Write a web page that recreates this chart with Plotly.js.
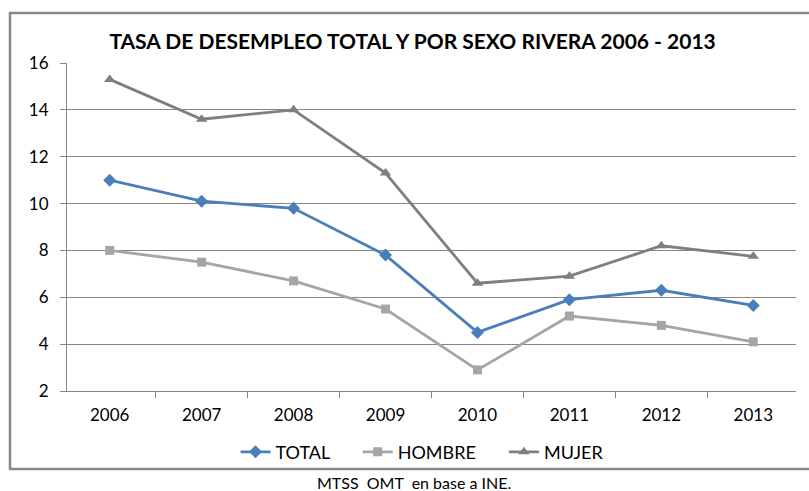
<!DOCTYPE html>
<html>
<head>
<meta charset="utf-8">
<script src="https://cdn.plot.ly/plotly-3.0.1.min.js"></script>
<style>
  html, body { margin: 0; padding: 0; background: #fff; }
  #chart { width: 809px; height: 491px; }
</style>
</head>
<body>
<div id="chart"></div>
<script>
const years = ['2006', '2007', '2008', '2009', '2010', '2011', '2012', '2013'];
const total = [11.0, 10.1, 9.8, 7.8, 4.5, 5.9, 6.3, 5.65];
const hombre = [8.0, 7.5, 6.7, 5.5, 2.9, 5.2, 4.8, 4.1];
const mujer = [15.3, 13.6, 14.0, 11.3, 6.6, 6.9, 8.2, 7.75];

const font = 'Lato, sans-serif';
const pad = '\u00a0'.repeat(5);

function series(name, y, color, symbol, size) {
  return {
    x: years, y: y, name: name,
    type: 'scatter', mode: 'lines+markers',
    line: { color: color, width: 2.8 },
    marker: { color: color, symbol: symbol, size: size }
  };
}

const traces = [
  series('TOTAL' + pad, total, '#4a7ebb', 'diamond', 10),
  series('HOMBRE' + pad, hombre, '#a5a5a5', 'square', 9),
  series('MUJER', mujer, '#7f7f7f', 'triangle-up', 10)
];

const layout = {
  width: 809, height: 491,
  margin: { l: 67, r: 13, t: 63, b: 100 },
  paper_bgcolor: '#fff', plot_bgcolor: '#fff',
  font: { family: font, size: 17, color: '#000' },
  title: {
    text: '<b>TASA DE DESEMPLEO TOTAL Y POR SEXO RIVERA 2006 - 2013</b>',
    font: { family: font, size: 21, color: '#000' },
    x: 0.51, xanchor: 'center', y: 0.915, yanchor: 'middle'
  },
  xaxis: {
    type: 'category',
    showline: true, linecolor: '#868686', linewidth: 1,
    ticks: 'outside', tickson: 'boundaries', ticklen: 6, tickcolor: '#868686',
    ticklabelstandoff: 9,
    showgrid: false, zeroline: false,
    tickfont: { family: font, size: 17 }
  },
  yaxis: {
    range: [2, 16], dtick: 2,
    showline: true, linecolor: '#868686', linewidth: 1,
    ticks: 'outside', ticklen: 6, tickcolor: '#868686',
    ticklabelstandoff: 8,
    gridcolor: '#868686', gridwidth: 1, zeroline: false,
    tickfont: { family: font, size: 17 }
  },
  showlegend: true,
  legend: {
    orientation: 'h', x: 0.487, xanchor: 'center', y: -0.13, yanchor: 'top',
    font: { family: font, size: 18 }, traceorder: 'normal',
    bgcolor: 'rgba(0,0,0,0)'
  },
  shapes: [{
    type: 'rect', xref: 'paper', yref: 'paper',
    x0: (10 - 67) / 729, x1: (812 - 67) / 729,
    y0: (391 - 469) / 328, y1: (391 - 13) / 328,
    line: { color: '#868686', width: 2.5 }
  }],
  annotations: [{
    text: 'MTSS  OMT  en base a INE.',
    xref: 'paper', yref: 'paper',
    x: (414 - 67) / 729, y: (391 - 482) / 328,
    xanchor: 'center', yanchor: 'middle', showarrow: false,
    font: { family: font, size: 16, color: '#000' }
  }]
};

Plotly.newPlot('chart', traces, layout, { displayModeBar: false });
</script>
</body>
</html>
